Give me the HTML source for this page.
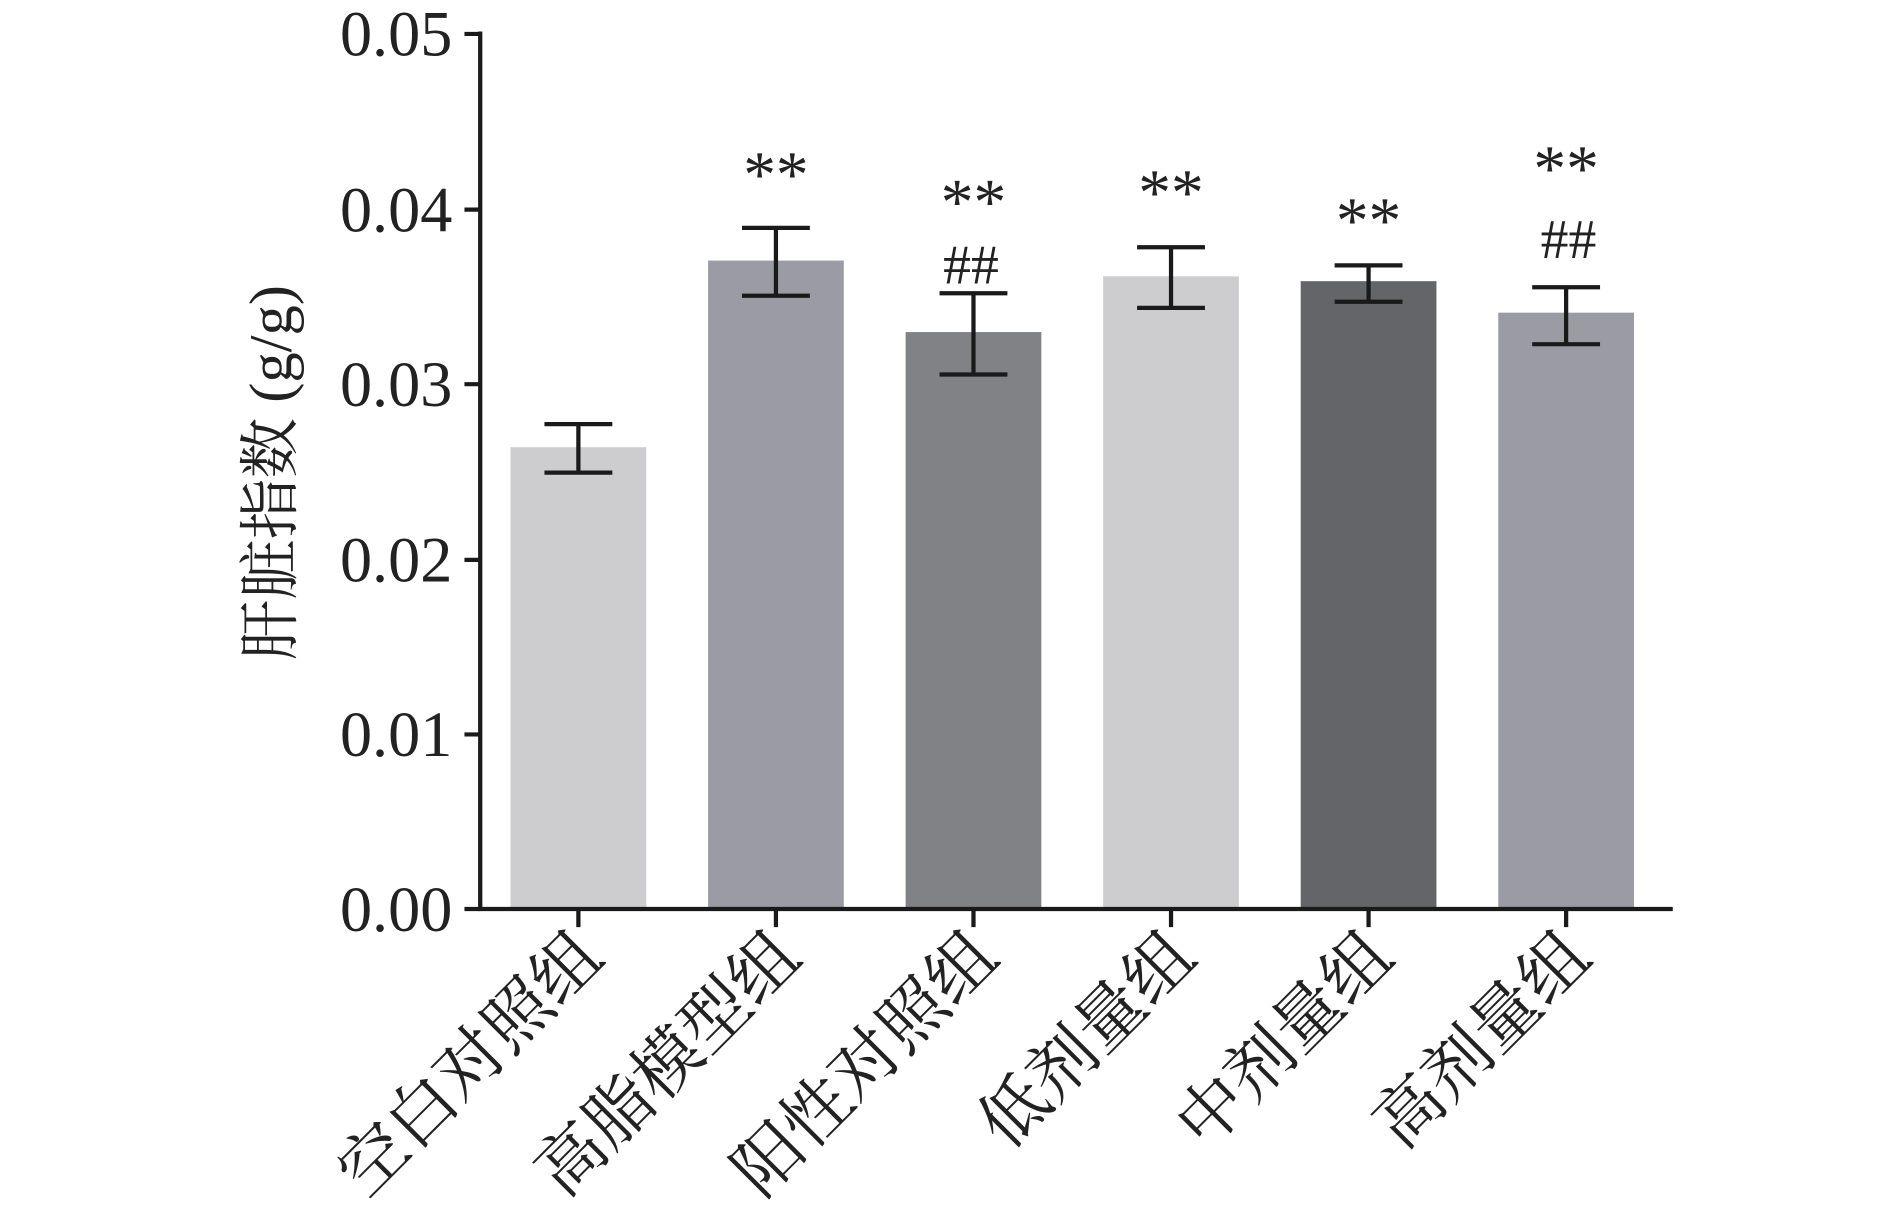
<!DOCTYPE html>
<html><head><meta charset="utf-8"><style>html,body{margin:0;padding:0;background:#fff}svg{display:block}</style></head>
<body>
<svg width="1890" height="1218" viewBox="0 0 1559 1005" xmlns="http://www.w3.org/2000/svg">
<rect x="421" y="369" width="112" height="381" fill="#cdcdcf"/>
<rect x="584" y="215" width="112" height="535" fill="#9b9ba3"/>
<rect x="747" y="274" width="112" height="476" fill="#818286"/>
<rect x="910" y="228" width="112" height="522" fill="#cdcdcf"/>
<rect x="1073" y="232" width="112" height="518" fill="#646568"/>
<rect x="1236" y="258" width="112" height="492" fill="#9b9ba3"/>
<g stroke="#1a1a1a" stroke-width="3.5" fill="none">
<path d="M396 26V750H1380"/>
<path d="M383 28H396M383 173H396M383 317H396M383 462H396M383 606H396M383 750H396"/>
<path d="M477 750v15M640 750v15M803 750v15M966 750v15M1129 750v15M1292 750v15"/>
<path d="M477 350v40M449 350h56M449 390h56"/>
<path d="M640 188v56M612 188h56M612 244h56"/>
<path d="M803 242v67M775 242h56M775 309h56"/>
<path d="M966 204v50M938 204h56M938 254h56"/>
<path d="M1129 219v30M1101 219h56M1101 249h56"/>
<path d="M1292 237v47M1264 237h56M1264 284h56"/>
</g>
<g style="font-family:'Liberation Serif',serif" font-size="53" fill="#222" text-anchor="end">
<text x="373" y="46">0.05</text><text x="373" y="191">0.04</text><text x="373" y="335">0.03</text>
<text x="373" y="480">0.02</text><text x="373" y="624">0.01</text><text x="373" y="768">0.00</text>
</g>
<text transform="translate(240,390) rotate(-90)" text-anchor="middle" style="font-family:'Liberation Serif','Noto Serif CJK SC',serif" font-size="50" fill="#222">肝脏指数 (g/g)</text>
<g style="font-family:'Liberation Serif',serif" font-size="54" fill="#222" text-anchor="middle">
<text x="640" y="162">**</text><text x="803" y="185">**</text><text x="966" y="177">**</text>
<text x="1129" y="200">**</text><text x="1292" y="157">**</text>
</g>
<g style="font-family:'Liberation Serif',serif" font-size="46" fill="#222" text-anchor="middle">
<text x="801" y="234">##</text><text x="1294" y="213">##</text>
</g>
<g style="font-family:'Noto Serif CJK SC',serif" font-size="56" fill="#222" text-anchor="end">
<text transform="translate(500,792) rotate(-45)">空白对照组</text>
<text transform="translate(663,792) rotate(-45)">高脂模型组</text>
<text transform="translate(826,792) rotate(-45)">阳性对照组</text>
<text transform="translate(989,792) rotate(-45)">低剂量组</text>
<text transform="translate(1152,792) rotate(-45)">中剂量组</text>
<text transform="translate(1315,792) rotate(-45)">高剂量组</text>
</g>
</svg>
</body></html>
